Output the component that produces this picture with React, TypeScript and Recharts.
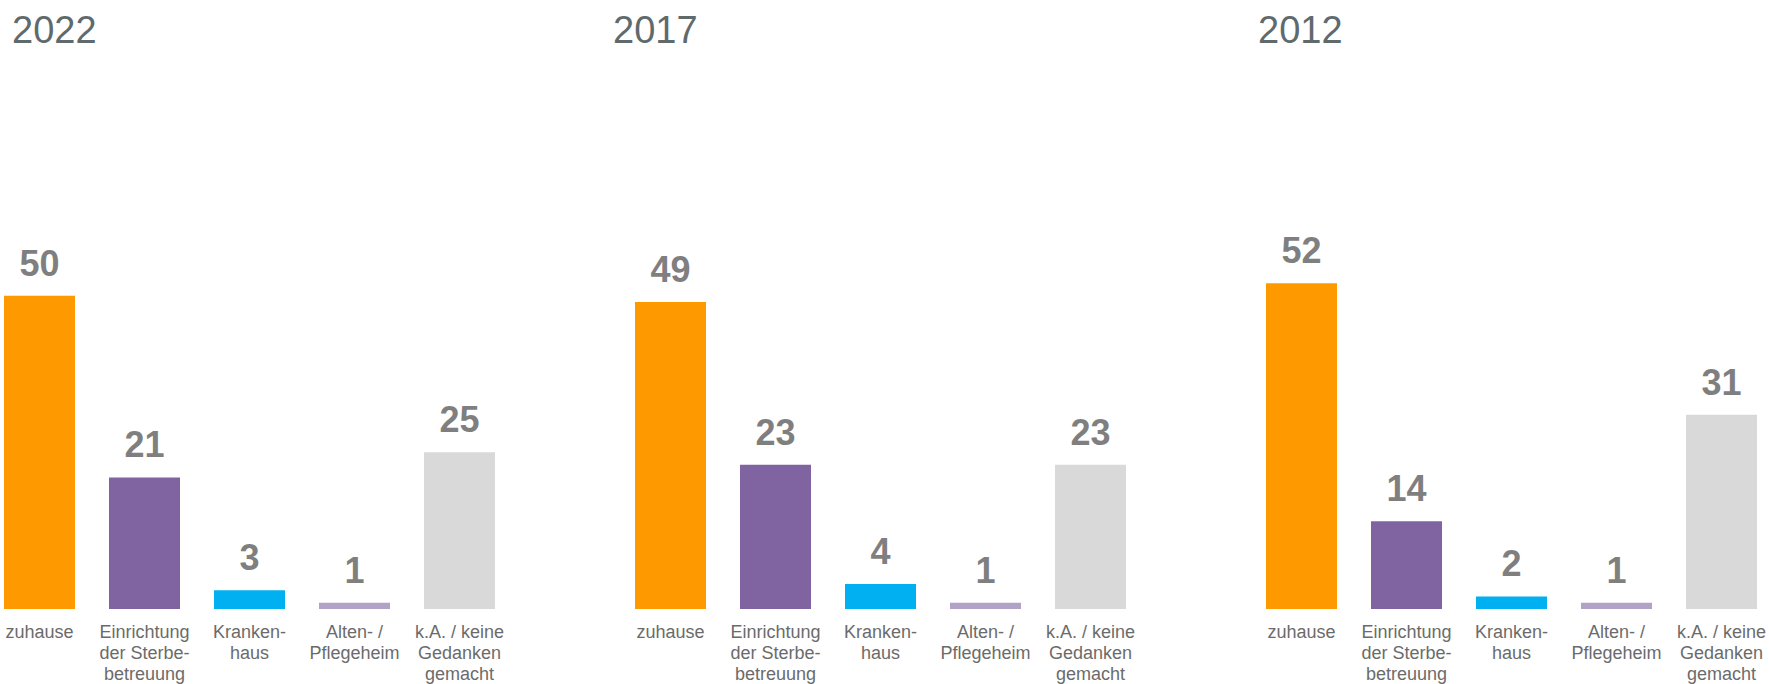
import React from 'react';
import { BarChart, Bar, XAxis, YAxis, Cell, LabelList } from 'recharts';

const categories = [
  'zuhause',
  'Einrichtung\nder Sterbe-\nbetreuung',
  'Kranken-\nhaus',
  'Alten- /\nPflegeheim',
  'k.A. / keine\nGedanken\ngemacht',
];

const years = ['2022', '2017', '2012'];
const values2022 = [50, 21, 3, 1, 25];
const values2017 = [49, 23, 4, 1, 23];
const values2012 = [52, 14, 2, 1, 31];
const barColors = ['#FF9900', '#8064A2', '#00B0F0', '#B3A2C7', '#D9D9D9'];

const FONT = '"Liberation Sans", Arial, sans-serif';

const panels = [
  { year: years[0], values: values2022, left: -13, titleX: 12 },
  { year: years[1], values: values2017, left: 618, titleX: 613 },
  { year: years[2], values: values2012, left: 1249, titleX: 1258 },
];

function WrappedTick(props: any) {
  const { x, y, payload } = props;
  const lines = String(payload.value).split('\n');
  return (
    <text x={x} y={y} textAnchor="middle" fill="#6b6b6b" fontSize={18} fontFamily={FONT}>
      {lines.map((line, i) => (
        <tspan key={i} x={x} dy={i === 0 ? 29 : 21}>
          {line}
        </tspan>
      ))}
    </text>
  );
}

function Panel({ values, left }: { values: number[]; left: number }) {
  const data = categories.map((name, i) => ({ name, value: values[i] }));
  return (
    <div style={{ position: 'absolute', left, top: 0 }}>
      <BarChart
        width={525}
        height={684}
        data={data}
        margin={{ top: 233, right: 0, bottom: 0, left: 0 }}
        barSize={71}
      >
        <YAxis hide domain={[0, 60]} />
        <XAxis
          dataKey="name"
          height={75}
          axisLine={false}
          tickLine={false}
          tickSize={0}
          tickMargin={0}
          interval={0}
          tick={<WrappedTick />}
        />
        <Bar dataKey="value" isAnimationActive={false}>
          {data.map((d, i) => (
            <Cell key={d.name} fill={barColors[i]} />
          ))}
          <LabelList
            dataKey="value"
            position="top"
            offset={20}
            fill="#7f7f7f"
            fontSize={36}
            fontWeight="bold"
            fontFamily={FONT}
          />
        </Bar>
      </BarChart>
    </div>
  );
}

export default function App() {
  return (
    <div
      style={{
        position: 'absolute',
        left: 0,
        top: 0,
        width: 1769,
        height: 684,
        overflow: 'hidden',
        background: '#fff',
      }}
    >
      {panels.map((p) => (
        <Panel key={p.year} values={p.values} left={p.left} />
      ))}
      <svg width={1769} height={60} style={{ position: 'absolute', left: 0, top: 0 }}>
        {panels.map((p) => (
          <text key={p.year} x={p.titleX} y={43} fill="#5f6a6d" fontSize={38} fontFamily={FONT}>
            {p.year}
          </text>
        ))}
      </svg>
    </div>
  );
}
